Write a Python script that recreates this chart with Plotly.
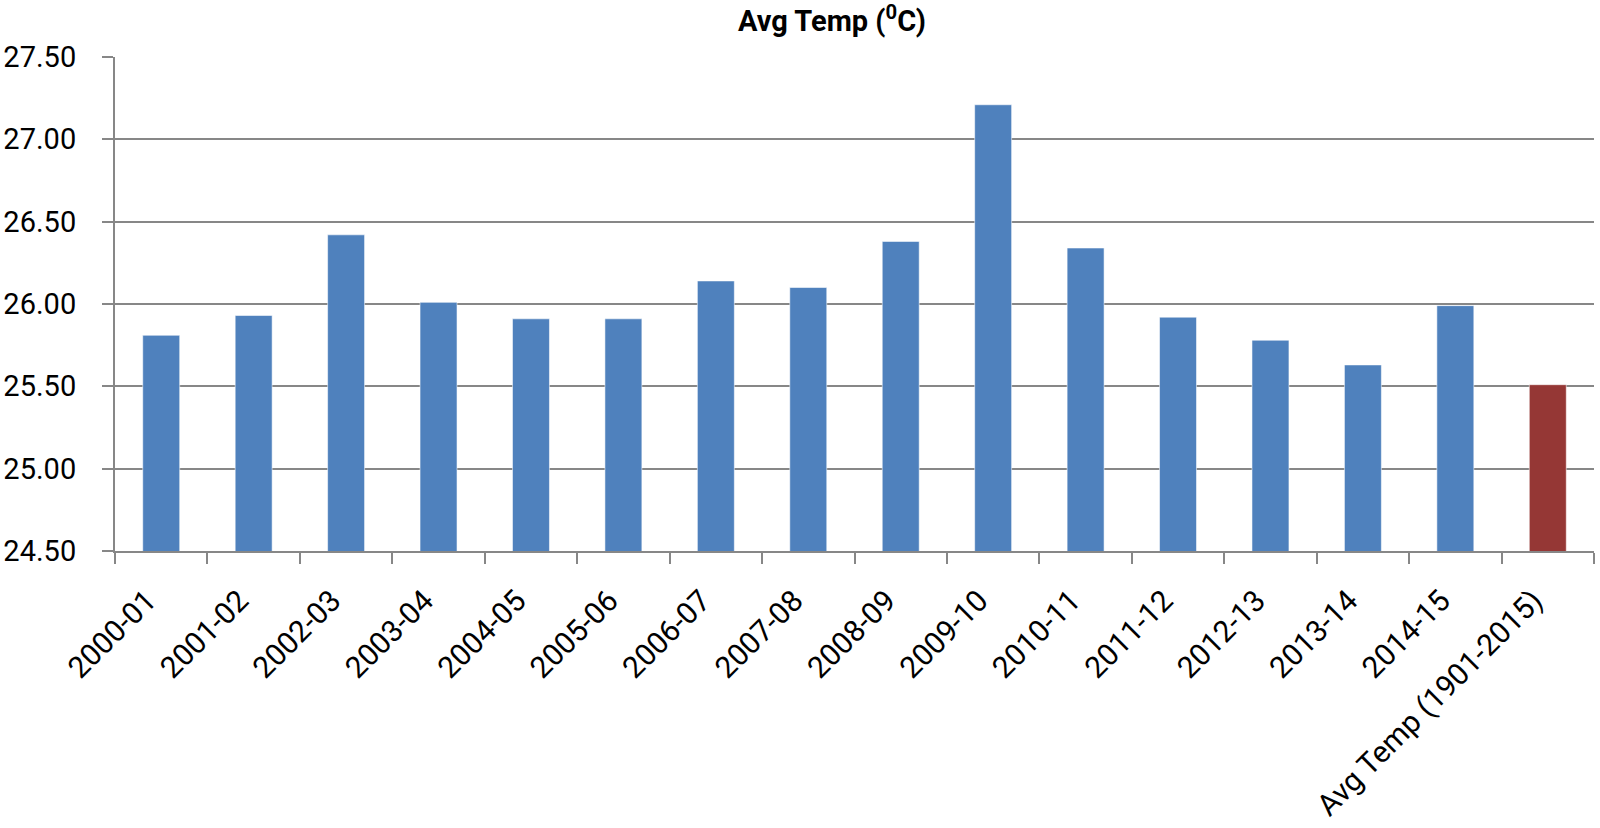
import plotly.graph_objects as go

categories = ["2000-01", "2001-02", "2002-03", "2003-04", "2004-05", "2005-06",
              "2006-07", "2007-08", "2008-09", "2009-10", "2010-11", "2011-12",
              "2012-13", "2013-14", "2014-15", "Avg Temp (1901-2015)"]
values = [25.81, 25.93, 26.42, 26.01, 25.91, 25.91,
          26.14, 26.10, 26.38, 27.21, 26.34, 25.92,
          25.78, 25.63, 25.99, 25.51]
bar_colors = ["#4F81BD"] * 15 + ["#953735"]
y_ticks = [24.5, 25.0, 25.5, 26.0, 26.5, 27.0, 27.5]

fig = go.Figure()
fig.add_trace(go.Bar(
    x=categories, y=values,
    marker=dict(color=bar_colors, line=dict(color="rgba(255,255,255,0.55)", width=1)),
    width=0.4,
))

grid = "#878787"
fig.update_layout(
    width=1600, height=828,
    margin=dict(l=115, r=6, t=57, b=277),
    paper_bgcolor="white", plot_bgcolor="white",
    showlegend=False,
    font=dict(family="Roboto, Lato, sans-serif", color="black"),
    title=dict(text="<b>Avg Temp (<sup>0</sup>C)</b>", x=832/1600, xanchor="center",
               y=1 - 21/828, yanchor="middle",
               font=dict(size=29, family="Roboto, sans-serif", color="black")),
)
fig.update_xaxes(
    type="category", tickangle=-45, tickfont=dict(size=30),
    showline=True, linecolor=grid, linewidth=2,
    ticks="outside", tickson="boundaries", ticklen=11, tickwidth=2, tickcolor=grid,
    showgrid=False, range=[-0.5, 15.5], automargin=False,
    ticklabelstandoff=18, ticklabelshift=-14,
)
fig.update_yaxes(
    range=[24.5, 27.5], tickvals=y_ticks, tickformat=".2f",
    tickfont=dict(size=29),
    showline=True, linecolor=grid, linewidth=2,
    ticks="outside", ticklen=11, tickwidth=2, tickcolor=grid,
    showgrid=True, gridcolor=grid, gridwidth=2,
    zeroline=False, ticklabelstandoff=20, automargin=False,
)

fig.write_html("out.html", config={"displayModeBar": False},
               post_script="document.body.style.margin='0';")
